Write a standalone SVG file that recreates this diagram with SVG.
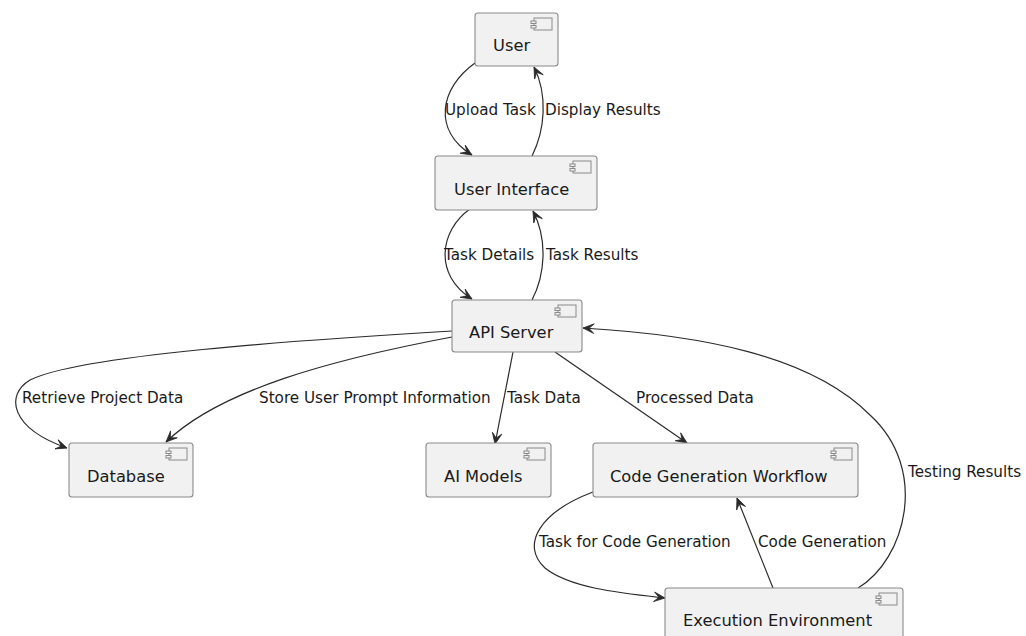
<svg xmlns="http://www.w3.org/2000/svg" width="1026" height="636" viewBox="0 0 1026 636">
<style>
.box{fill:#F1F1F1;stroke:#8a8a8a;stroke-width:1.1}
.ico{fill:#F1F1F1;stroke:#8a8a8a;stroke-width:1}
.nt{font-family:"DejaVu Sans",sans-serif;font-size:16.3px;fill:#1a1a1a}
.lt{font-family:"DejaVu Sans",sans-serif;font-size:15.2px;fill:#1a1a1a}
.edge{fill:none;stroke:#2a2a2a;stroke-width:1.2}
</style>
<defs>
<marker id="arr" viewBox="-12 -6 13 12" markerWidth="13" markerHeight="12" refX="0" refY="0" orient="auto" markerUnits="userSpaceOnUse">
<path d="M0,0 L-11,-4.8 L-6,0 L-11,4.8 Z" fill="#2a2a2a" stroke="#2a2a2a" stroke-width="0.8" stroke-linejoin="round"/>
</marker>
<g id="icon">
<rect x="-24" y="5" width="18" height="12" class="ico"/>
<rect x="-27" y="8" width="5" height="2.5" class="ico"/>
<rect x="-27" y="12.5" width="5" height="2.5" class="ico"/>
</g>
</defs>
<rect width="1026" height="636" fill="#ffffff"/>

<g id="connectors">
<path class="edge" marker-end="url(#arr)" d="M475,63 C440,88 432,130 472,155"/>
<path class="edge" marker-end="url(#arr)" d="M532,156 C545,130 548,95 534,67"/>
<path class="edge" marker-end="url(#arr)" d="M470,209 C440,230 433,275 472,299"/>
<path class="edge" marker-end="url(#arr)" d="M532,300 C545,275 548,240 533,211"/>
<path class="edge" marker-end="url(#arr)" d="M452,331 C300,340 80,355 30,380 C5,395 10,428 67,448"/>
<path class="edge" marker-end="url(#arr)" d="M452,337 C330,360 220,390 166,442"/>
<path class="edge" marker-end="url(#arr)" d="M513,352 L495,444"/>
<path class="edge" marker-end="url(#arr)" d="M555,352 L687,443"/>
<path class="edge" marker-end="url(#arr)" d="M858,588 C905,560 930,470 870,415 C810,355 700,335 583,328"/>
<path class="edge" marker-end="url(#arr)" d="M593,492 C540,512 520,545 545,568 C570,588 620,593 665,598"/>
<path class="edge" marker-end="url(#arr)" d="M773,588 L737,498"/>
<text class="lt" x="445" y="115">Upload Task</text>
<text class="lt" x="545" y="115">Display Results</text>
<text class="lt" x="444" y="260">Task Details</text>
<text class="lt" x="546" y="260">Task Results</text>
<text class="lt" x="22" y="403">Retrieve Project Data</text>
<text class="lt" x="259" y="403">Store User Prompt Information</text>
<text class="lt" x="507" y="403">Task Data</text>
<text class="lt" x="636" y="403">Processed Data</text>
<text class="lt" x="908" y="477">Testing Results</text>
<text class="lt" x="539" y="547">Task for Code Generation</text>
<text class="lt" x="758" y="547">Code Generation</text>
</g>

<g id="user">
<rect class="box" x="475" y="13" width="83" height="53" rx="3"/>
<use href="#icon" x="558" y="13"/>
<text class="nt" x="493" y="51">User</text>
</g>
<g id="user-interface">
<rect class="box" x="435" y="156" width="162" height="54" rx="3"/>
<use href="#icon" x="597" y="156"/>
<text class="nt" x="454" y="195">User Interface</text>
</g>
<g id="api-server">
<rect class="box" x="452" y="300" width="130" height="52" rx="3"/>
<use href="#icon" x="582" y="300"/>
<text class="nt" x="469" y="338">API Server</text>
</g>
<g id="database">
<rect class="box" x="69" y="443" width="124" height="54" rx="3"/>
<use href="#icon" x="193" y="443"/>
<text class="nt" x="87" y="482">Database</text>
</g>
<g id="ai-models">
<rect class="box" x="426" y="443" width="125" height="54" rx="3"/>
<use href="#icon" x="551" y="443"/>
<text class="nt" x="444" y="482">AI Models</text>
</g>
<g id="code-generation-workflow">
<rect class="box" x="593" y="443" width="265" height="54" rx="3"/>
<use href="#icon" x="858" y="443"/>
<text class="nt" x="610" y="482">Code Generation Workflow</text>
</g>
<g id="execution-environment">
<rect class="box" x="665" y="588" width="238" height="54" rx="3"/>
<use href="#icon" x="903" y="588"/>
<text class="nt" x="683" y="626">Execution Environment</text>
</g>
</svg>
